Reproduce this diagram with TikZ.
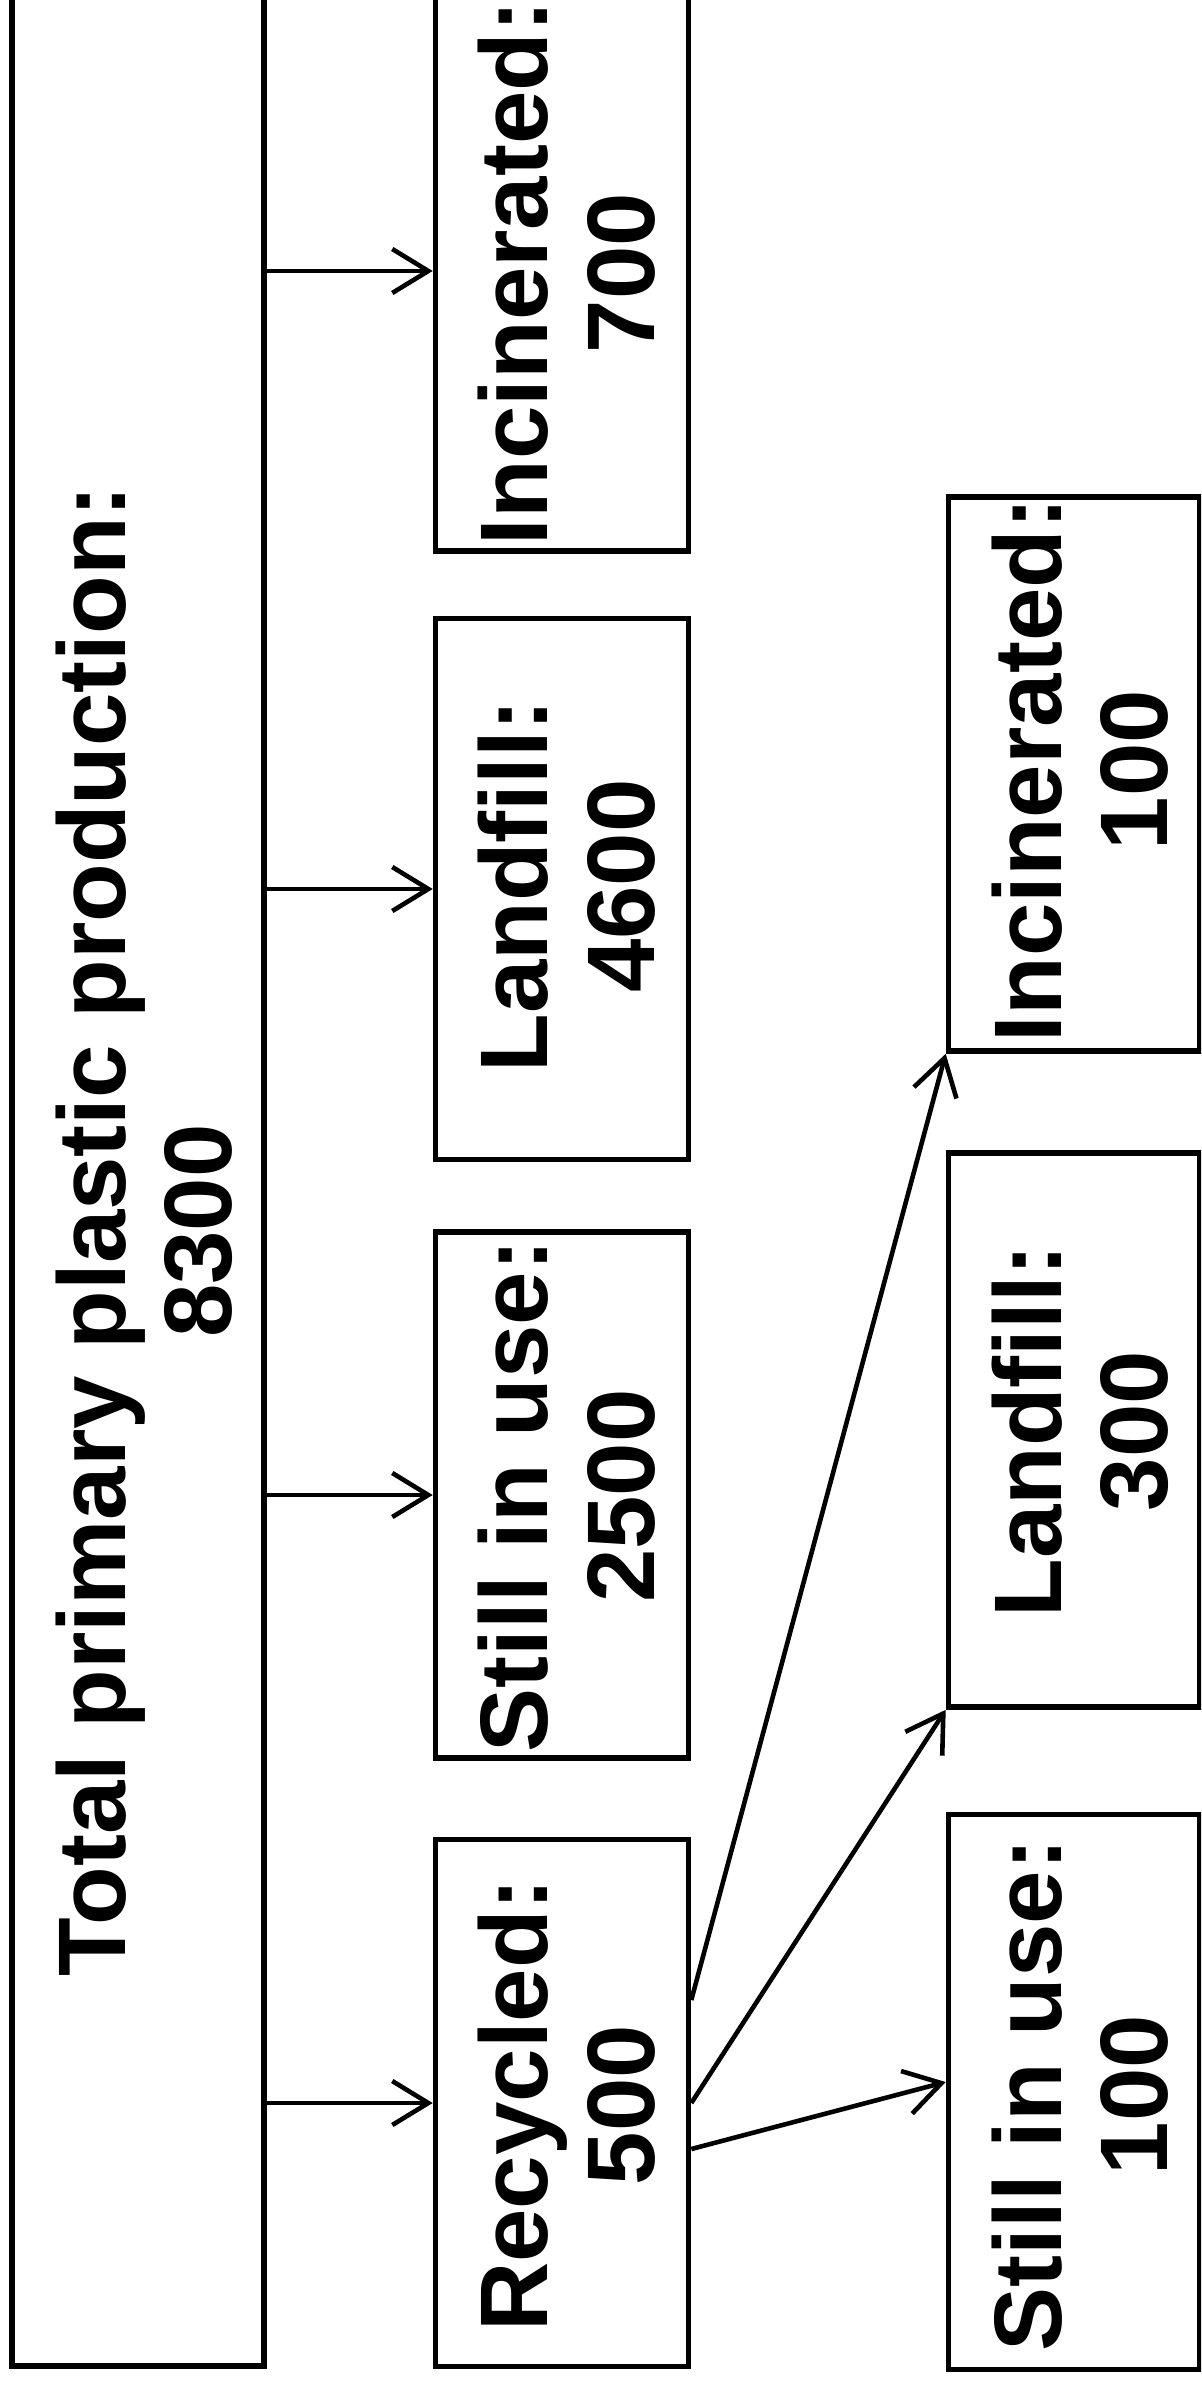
\documentclass[tikz,border=0pt]{standalone}
\usepackage{fontspec}
\setmainfont{Liberation Sans}
\usetikzlibrary{arrows.meta,calc}

\tikzset{
    box/.style={draw, line width=1.4pt, inner sep=0pt},
    lbl/.style={rotate=90, align=center, inner sep=0pt,
        font=\fontsize{24}{26.6}\selectfont\bfseries},
    arr/.style={line width=1.15pt, -{Straight Barb[length=9pt,width=11pt]}}
}

\begin{document}
\begin{tikzpicture}[x=0.25pt, y=-0.25pt]
    \useasboundingbox (0,0) rectangle (1201,2383);
    \clip (0,0) rectangle (1201,2383);

    % production box, its top runs out of the picture
    \node[box, minimum width=63pt, minimum height=606.5pt] (total) at (138,1153) {};
    \node[lbl] (totaltxt) at (144,1231) {Total primary plastic production:\\8300};

    % first split
    \node[box, minimum width=63.25pt, minimum height=140pt] (incin) at (562,271) {};
    \node[lbl] (incintxt) at (566.5,273) {Incinerated:\\700};
    \node[box, minimum width=63.25pt, minimum height=135.25pt] (landfill) at (562,889) {};
    \node[lbl] (landfilltxt) at (566.5,886) {Landfill:\\4600};
    \node[box, minimum width=63.25pt, minimum height=131.5pt] (inuse) at (562,1495) {};
    \node[lbl] (inusetxt) at (566.5,1496) {Still in use:\\2500};
    \node[box, minimum width=63.25pt, minimum height=131.75pt] (recyc) at (562,2103) {};
    \node[lbl] (recyctxt) at (566.5,2105) {Recycled:\\500};

    % what becomes of the recycled part
    \node[box, minimum width=62.75pt, minimum height=138.5pt] (rincin) at (1074,774) {};
    \node[lbl] (rincintxt) at (1080,770) {Incinerated:\\100};
    \node[box, minimum width=62.75pt, minimum height=138.5pt] (rlandfill) at (1074,1430) {};
    \node[lbl] (rlandfilltxt) at (1080,1431) {Landfill:\\300};
    \node[box, minimum width=62.75pt, minimum height=138.75pt] (rinuse) at (1074,2092) {};
    \node[lbl] (rinusetxt) at (1080,2095) {Still in use:\\100};

    \foreach \n in {incin,landfill,inuse,recyc} {
        \draw[arr] (total.east |- \n.west) -- (\n.west); % one arrow per box
    }
    \draw[arr] ($(recyc.east)+(0,-103)$) -- (rincin.south west);
    \draw[arr] (recyc.east) -- (rlandfill.south west);
    \draw[arr] ($(recyc.east)+(0,46)$) -- ($(rinuse.west)+(0,-10)$);
\end{tikzpicture}
\end{document}
